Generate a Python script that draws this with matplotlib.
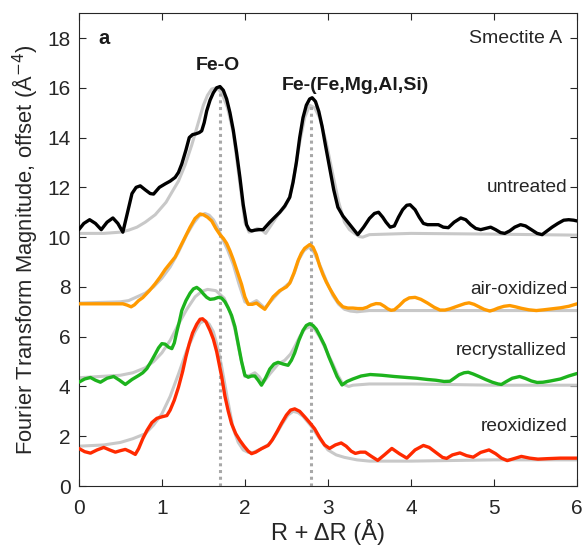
import matplotlib
matplotlib.use("Agg")
import matplotlib.pyplot as plt

plt.rcParams['font.family'] = ['Liberation Sans', 'DejaVu Sans']

# ---- data ----
untreated_x = [0.00, 0.06, 0.13, 0.20, 0.27, 0.34, 0.41, 0.47, 0.53, 0.58, 0.64, 0.69, 0.74, 0.80, 0.86, 0.90,
               0.97, 1.04, 1.10, 1.16, 1.20, 1.24, 1.29, 1.33, 1.37, 1.41, 1.45, 1.48, 1.51, 1.54, 1.58, 1.62,
               1.66, 1.70, 1.74, 1.78, 1.82, 1.86, 1.90, 1.94, 1.98, 2.02, 2.05, 2.08, 2.12, 2.17, 2.22, 2.26,
               2.30, 2.36, 2.42, 2.48, 2.54, 2.58, 2.62, 2.66, 2.70, 2.74, 2.78, 2.81, 2.85, 2.89, 2.93, 2.97,
               3.02, 3.07, 3.12, 3.18, 3.24, 3.30, 3.36, 3.43, 3.50, 3.56, 3.61, 3.66, 3.70, 3.75, 3.80, 3.85,
               3.90, 3.95, 3.99, 4.05, 4.10, 4.15, 4.20, 4.26, 4.33, 4.39, 4.45, 4.52, 4.60, 4.66, 4.72, 4.78,
               4.84, 4.90, 4.96, 5.02, 5.08, 5.13, 5.19, 5.25, 5.32, 5.38, 5.45, 5.52, 5.58, 5.64, 5.70, 5.77,
               5.84, 5.90, 5.96, 6.00]
untreated_y = [10.30, 10.55, 10.70, 10.55, 10.30, 10.60, 10.77, 10.55, 10.20, 10.90, 11.75, 12.00, 12.06, 11.90,
               11.75, 11.73, 12.00, 12.14, 12.25, 12.40, 12.60, 12.94, 13.50, 14.00, 14.12, 14.15, 14.20, 14.27,
               14.60, 15.07, 15.50, 15.80, 16.00, 16.05, 15.90, 15.55, 15.00, 14.30, 13.40, 12.40, 11.30, 10.50,
               10.30, 10.25, 10.28, 10.30, 10.30, 10.45, 10.60, 10.80, 11.00, 11.25, 11.60, 12.20, 13.00, 14.00,
               14.80, 15.30, 15.55, 15.60, 15.45, 15.05, 14.45, 13.70, 12.80, 11.90, 11.20, 10.85, 10.60, 10.35,
               10.10, 10.40, 10.75, 10.95, 11.00, 10.80, 10.60, 10.40, 10.45, 10.80, 11.10, 11.28, 11.30, 11.10,
               10.80, 10.55, 10.50, 10.50, 10.50, 10.40, 10.38, 10.60, 10.77, 10.70, 10.50, 10.35, 10.30, 10.35,
               10.40, 10.30, 10.18, 10.15, 10.25, 10.40, 10.50, 10.45, 10.30, 10.15, 10.10, 10.25, 10.40, 10.55,
               10.68, 10.70, 10.68, 10.65]
untreated_fit_x = [0.0, 0.3, 0.5, 0.6, 0.7, 0.8, 0.92, 1.05, 1.12, 1.2, 1.28, 1.36, 1.43, 1.5, 1.55, 1.6, 1.66,
                   1.72, 1.79, 1.86, 1.93, 2.0, 2.05, 2.10, 2.15, 2.2, 2.25, 2.32, 2.4, 2.48, 2.54, 2.6, 2.66,
                   2.72, 2.78, 2.84, 2.9, 2.98, 3.06, 3.13, 3.2, 3.26, 3.32, 3.38, 3.42, 3.5, 4.0, 5.0, 6.0]
untreated_fit_y = [10.15, 10.15, 10.2, 10.28, 10.4, 10.6, 10.9, 11.4, 11.8, 12.25, 12.9, 13.7, 14.5, 15.3, 15.7,
                   15.95, 16.0, 15.8, 15.2, 14.2, 12.4, 10.6, 10.2, 10.25, 10.35, 10.3, 10.15, 10.5, 10.9, 11.2,
                   11.6, 12.6, 13.8, 14.8, 15.3, 15.2, 14.8, 13.8, 12.5, 11.4, 10.6, 10.3, 10.15, 10.02, 10.0,
                   10.1, 10.15, 10.12, 10.08]

air_x = [0.00, 0.30, 0.53, 0.58, 0.63, 0.67, 0.72, 0.77, 0.85, 0.92, 0.98, 1.04, 1.10, 1.16, 1.22, 1.28, 1.34,
         1.40, 1.46, 1.50, 1.55, 1.60, 1.65, 1.70, 1.74, 1.78, 1.82, 1.86, 1.91, 1.96, 2.00, 2.04, 2.09, 2.14,
         2.19, 2.24, 2.29, 2.34, 2.42, 2.50, 2.54, 2.59, 2.64, 2.68, 2.72, 2.78, 2.82, 2.86, 2.90, 2.94, 2.98,
         3.02, 3.06, 3.12, 3.18, 3.24, 3.30, 3.36, 3.42, 3.47, 3.52, 3.58, 3.63, 3.68, 3.72, 3.76, 3.80, 3.86,
         3.92, 3.98, 4.05, 4.12, 4.20, 4.28, 4.35, 4.41, 4.47, 4.58, 4.65, 4.70, 4.76, 4.82, 4.88, 4.95, 5.00,
         5.05, 5.12, 5.19, 5.26, 5.33, 5.42, 5.51, 5.60, 5.70, 5.80, 5.90, 6.00]
air_y = [7.32, 7.32, 7.32, 7.27, 7.20, 7.28, 7.45, 7.57, 7.85, 8.13, 8.40, 8.70, 8.95, 9.20, 9.60, 10.00, 10.40,
         10.75, 10.93, 10.90, 10.80, 10.65, 10.35, 10.10, 9.95, 9.75, 9.45, 9.10, 8.60, 8.10, 7.60, 7.30, 7.30,
         7.35, 7.22, 7.10, 7.35, 7.60, 7.85, 8.00, 8.15, 8.55, 9.05, 9.35, 9.55, 9.70, 9.60, 9.30, 8.85, 8.50,
         8.20, 7.95, 7.72, 7.40, 7.20, 7.15, 7.15, 7.13, 7.13, 7.18, 7.27, 7.33, 7.32, 7.22, 7.12, 7.06, 7.08,
         7.25, 7.45, 7.56, 7.58, 7.50, 7.35, 7.18, 7.07, 7.07, 7.12, 7.25, 7.33, 7.36, 7.30, 7.20, 7.10, 7.03,
         7.08, 7.15, 7.22, 7.25, 7.20, 7.14, 7.08, 7.05, 7.08, 7.12, 7.16, 7.22, 7.32]
air_fit_x = [0.0, 0.5, 0.6, 0.7, 0.8, 0.9, 1.0, 1.1, 1.2, 1.3, 1.38, 1.45, 1.52, 1.57, 1.62, 1.67, 1.72, 1.79,
             1.86, 1.93, 2.0, 2.06, 2.1, 2.14, 2.19, 2.24, 2.32, 2.4, 2.48, 2.55, 2.6, 2.65, 2.71, 2.77, 2.83,
             2.9, 2.98, 3.06, 3.13, 3.2, 3.27, 3.35, 3.5, 4.0, 5.0, 6.0]
air_fit_y = [7.35, 7.4, 7.45, 7.6, 7.75, 8.0, 8.35, 8.8, 9.4, 10.1, 10.55, 10.85, 10.95, 10.88, 10.7, 10.4, 10.0,
             9.5, 8.9, 8.1, 7.4, 7.3, 7.38, 7.45, 7.3, 7.15, 7.45, 7.75, 8.0, 8.2, 8.6, 9.1, 9.45, 9.6, 9.4, 8.9,
             8.25, 7.65, 7.3, 7.1, 7.03, 7.0, 7.05, 7.05, 7.05, 7.05]

recr_x = [0.00, 0.07, 0.14, 0.20, 0.26, 0.34, 0.42, 0.49, 0.56, 0.64, 0.72, 0.77, 0.82, 0.87, 0.92, 0.96, 1.00,
          1.04, 1.08, 1.12, 1.15, 1.18, 1.21, 1.24, 1.29, 1.34, 1.38, 1.42, 1.46, 1.50, 1.54, 1.58, 1.63, 1.68,
          1.72, 1.76, 1.80, 1.84, 1.88, 1.92, 1.96, 2.00, 2.04, 2.08, 2.12, 2.16, 2.20, 2.25, 2.30, 2.35, 2.40,
          2.46, 2.52, 2.56, 2.60, 2.65, 2.70, 2.74, 2.78, 2.82, 2.86, 2.90, 2.96, 3.01, 3.06, 3.11, 3.17, 3.23,
          3.30, 3.40, 3.51, 3.65, 3.80, 3.95, 4.07, 4.20, 4.30, 4.40, 4.47, 4.53, 4.58, 4.64, 4.69, 4.75, 4.82,
          4.90, 4.98, 5.05, 5.09, 5.15, 5.22, 5.31, 5.38, 5.45, 5.52, 5.59, 5.68, 5.80, 5.90, 6.00]
recr_y = [4.17, 4.30, 4.36, 4.25, 4.17, 4.33, 4.40, 4.25, 4.08, 4.28, 4.44, 4.55, 4.72, 5.00, 5.30, 5.55, 5.72,
          5.70, 5.58, 5.52, 5.75, 6.20, 6.60, 7.05, 7.45, 7.75, 7.92, 7.98, 7.88, 7.72, 7.58, 7.50, 7.52, 7.58,
          7.55, 7.40, 7.15, 6.85, 6.40, 5.70, 5.00, 4.45, 4.37, 4.42, 4.42, 4.25, 4.05, 4.35, 4.70, 4.90, 4.97,
          4.90, 4.85, 5.05, 5.35, 5.85, 6.25, 6.45, 6.52, 6.45, 6.30, 6.05, 5.65, 5.20, 4.80, 4.40, 4.06, 4.20,
          4.30, 4.42, 4.48, 4.45, 4.40, 4.36, 4.33, 4.28, 4.25, 4.20, 4.21, 4.35, 4.47, 4.55, 4.57, 4.50, 4.40,
          4.28, 4.17, 4.10, 4.08, 4.20, 4.33, 4.40, 4.32, 4.22, 4.16, 4.17, 4.22, 4.30, 4.42, 4.52]
recr_fit_x = [0.0, 0.5, 0.65, 0.8, 0.9, 1.0, 1.1, 1.2, 1.3, 1.4, 1.48, 1.55, 1.65, 1.75, 1.82, 1.88, 1.94, 2.0,
              2.06, 2.12, 2.17, 2.22, 2.3, 2.4, 2.48, 2.55, 2.6, 2.66, 2.72, 2.78, 2.84, 2.9, 2.98, 3.06, 3.12,
              3.18, 3.25, 3.3, 3.5, 4.0, 5.0, 6.0]
recr_fit_y = [4.35, 4.45, 4.55, 4.75, 5.0, 5.35, 5.85, 6.5, 7.1, 7.6, 7.82, 7.9, 7.85, 7.55, 7.0, 6.3, 5.3, 4.4,
              4.45, 4.55, 4.4, 4.15, 4.5, 4.9, 5.05, 5.3, 5.6, 6.0, 6.3, 6.4, 6.3, 6.0, 5.45, 4.9, 4.45, 4.1, 4.0,
              4.05, 4.1, 4.1, 4.05, 4.05]

reox_x = [0.00, 0.07, 0.14, 0.22, 0.30, 0.37, 0.44, 0.50, 0.56, 0.62, 0.68, 0.72, 0.77, 0.82, 0.88, 0.94, 1.00,
          1.06, 1.10, 1.15, 1.20, 1.25, 1.29, 1.33, 1.37, 1.42, 1.46, 1.49, 1.53, 1.58, 1.62, 1.66, 1.69, 1.72,
          1.76, 1.80, 1.84, 1.89, 1.94, 1.99, 2.04, 2.08, 2.13, 2.20, 2.28, 2.33, 2.39, 2.44, 2.50, 2.55, 2.60,
          2.66, 2.72, 2.78, 2.84, 2.90, 2.96, 3.02, 3.09, 3.16, 3.22, 3.28, 3.33, 3.39, 3.45, 3.52, 3.60, 3.68,
          3.77, 3.86, 3.95, 4.05, 4.15, 4.22, 4.30, 4.38, 4.43, 4.50, 4.59, 4.67, 4.75, 4.84, 4.94, 5.02, 5.09,
          5.16, 5.24, 5.33, 5.43, 5.53, 5.65, 5.80, 6.00]
reox_y = [1.51, 1.38, 1.32, 1.45, 1.55, 1.45, 1.36, 1.42, 1.47, 1.38, 1.27, 1.50, 1.90, 2.23, 2.55, 2.72, 2.78,
          2.83, 3.05, 3.45, 3.97, 4.60, 5.20, 5.72, 6.15, 6.50, 6.70, 6.72, 6.60, 6.25, 5.90, 5.40, 4.90, 4.40,
          3.60, 3.00, 2.50, 2.10, 1.83, 1.60, 1.40, 1.30, 1.36, 1.50, 1.63, 1.85, 2.20, 2.51, 2.85, 3.05, 3.10,
          3.00, 2.78, 2.55, 2.30, 1.95, 1.65, 1.51, 1.65, 1.73, 1.60, 1.40, 1.31, 1.36, 1.36, 1.20, 1.03, 1.25,
          1.51, 1.30, 1.12, 1.45, 1.63, 1.55, 1.35, 1.15, 1.11, 1.25, 1.33, 1.22, 1.16, 1.35, 1.45, 1.30, 1.12,
          1.02, 1.10, 1.19, 1.12, 1.08, 1.10, 1.12, 1.12]
reox_fit_x = [0.0, 0.3, 0.5, 0.65, 0.8, 0.9, 1.0, 1.1, 1.2, 1.3, 1.4, 1.46, 1.52, 1.57, 1.62, 1.67, 1.72, 1.79,
              1.86, 1.92, 1.98, 2.04, 2.1, 2.2, 2.3, 2.38, 2.45, 2.52, 2.58, 2.64, 2.7, 2.8, 2.9, 3.0, 3.1, 3.2,
              3.35, 3.5, 4.0, 5.0, 6.0]
reox_fit_y = [1.6, 1.65, 1.75, 1.9, 2.1, 2.45, 2.9, 3.6, 4.5, 5.45, 6.2, 6.55, 6.65, 6.5, 6.2, 5.6, 4.8, 3.5,
              2.3, 1.75, 1.45, 1.35, 1.35, 1.5, 1.7, 2.1, 2.5, 2.85, 3.0, 2.95, 2.8, 2.4, 1.9, 1.45, 1.25, 1.15,
              1.05, 1.0, 1.0, 1.05, 1.05]

series_labels = ["untreated", "air-oxidized", "recrystallized", "reoxidized"]
label_y = [12.0, 7.9, 5.45, 2.4]
peak_positions = [1.70, 2.80]
peak_tops = [16.0, 15.3]
peak_names = ["Fe-O", "Fe-(Fe,Mg,Al,Si)"]
x_ticks = [0, 1, 2, 3, 4, 5, 6]
y_ticks = [0, 2, 4, 6, 8, 10, 12, 14, 16, 18]

# ---- figure ----
fig = plt.figure(figsize=(5.84, 5.47), dpi=100)
ax = fig.add_axes([0.135, 0.1115, 0.853, 0.8645])

fit_color = '#c8c8c8'
colors = ['#000000', '#ff9a00', '#1db31d', '#ff2a00']
data = [(untreated_x, untreated_y, untreated_fit_x, untreated_fit_y),
        (air_x, air_y, air_fit_x, air_fit_y),
        (recr_x, recr_y, recr_fit_x, recr_fit_y),
        (reox_x, reox_y, reox_fit_x, reox_fit_y)]

for dx, dy, fx, fy in data:
    ax.plot(fx, fy, color=fit_color, lw=2.2, solid_joinstyle='round', zorder=2)

for px, top in zip(peak_positions, peak_tops):
    ax.plot([px, px], [0, top], color='#a8a8a8', lw=2.2, ls=(0, (1, 1.2)), zorder=3)

for (dx, dy, fx, fy), c in zip(data, colors):
    ax.plot(dx, dy, color=c, lw=2.4, solid_joinstyle='round', solid_capstyle='round', zorder=4)

for lab, yy in zip(series_labels, label_y):
    ax.text(5.88, yy, lab, ha='right', va='center', fontsize=13.8, color='#262626')

ax.text(1.67, 16.9, peak_names[0], ha='center', va='center', fontsize=14, fontweight='bold', color='#1a1a1a')
ax.text(3.33, 16.1, peak_names[1], ha='center', va='center', fontsize=14, fontweight='bold', color='#1a1a1a')
ax.text(0.3, 18.0, 'a', ha='center', va='center', fontsize=14.5, fontweight='bold', color='#1a1a1a')
ax.text(5.82, 18.0, 'Smectite A', ha='right', va='center', fontsize=14, color='#262626')

ax.set_xlim(0, 6)
ax.set_ylim(0, 19)
ax.set_xticks(x_ticks)
ax.set_yticks(y_ticks)
ax.tick_params(direction='in', length=5, width=0.8, top=True, right=True,
               labelsize=15, colors='#262626', pad=6)
ax.tick_params(axis='x', pad=9)
for s in ax.spines.values():
    s.set_color('#262626')
    s.set_linewidth(0.8)

ax.set_xlabel('R + ΔR (Å)', fontsize=17, color='#262626', labelpad=1)
ax.set_ylabel('Fourier Transform Magnitude, offset (Å$^{-4}$)', fontsize=15.8, color='#262626', labelpad=5)

fig.savefig('out.png', dpi=100)
